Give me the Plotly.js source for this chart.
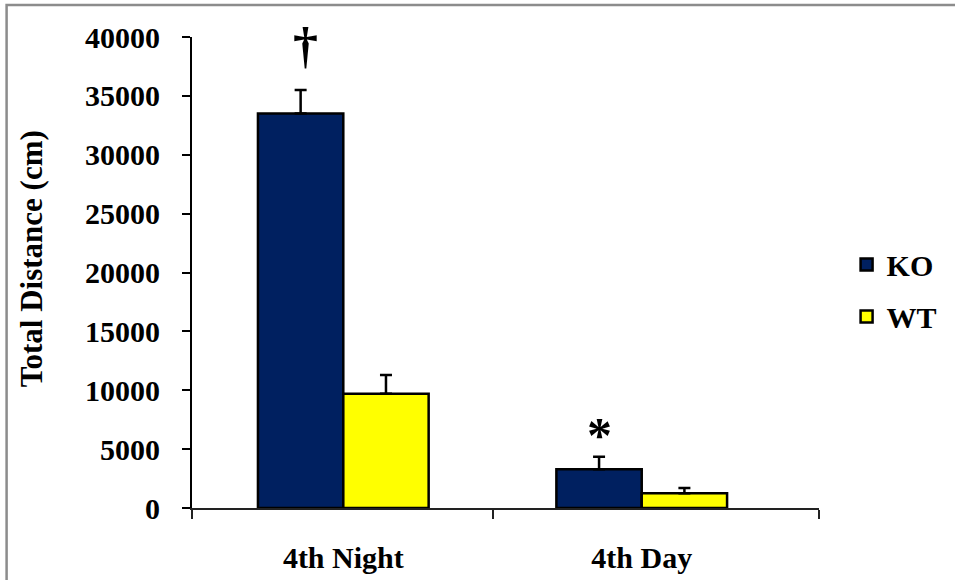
<!DOCTYPE html>
<html>
<head>
<meta charset="utf-8">
<script src="https://cdn.plot.ly/plotly-3.0.1.min.js"></script>
<style>
  html, body { margin: 0; padding: 0; background: #fff; }
  #chart { width: 955px; height: 580px; }
</style>
</head>
<body>
<div id="chart"></div>
<script>
// Locomotor activity: total distance travelled per phase
const categories = ['4th Night', '4th Day'];
const koValues = [33500, 3300];
const koErrors = [2000, 1050];
const wtValues = [9700, 1250];
const wtErrors = [1600, 450];
const yTickVals = [0, 5000, 10000, 15000, 20000, 25000, 30000, 35000, 40000];
const yTickText = yTickVals.map(v => String(v));

const FONT = 'Liberation Serif, Times New Roman, serif';
const BAR_GAP = 0.428;
const halfGroup = (1 - BAR_GAP) / 4;   // centre of each bar relative to its category
const xPos = categories.map((_, i) => i);

function barTrace(name, values, errors, color) {
  return {
    type: 'bar',
    name: name,
    legendgroup: name,
    x: xPos,
    y: values,
    marker: { color: color, line: { color: '#000', width: 2.5 } },
    error_y: {
      type: 'data', symmetric: false,
      array: errors, arrayminus: errors.map(() => 0),
      color: '#000', thickness: 2.5, width: 6
    },
    hoverinfo: 'y'
  };
}

const data = [
  barTrace('KO', koValues, koErrors, '#002060'),
  barTrace('WT', wtValues, wtErrors, '#FFFF00')
];

const layout = {
  width: 955, height: 580,
  margin: { l: 192, r: 134, t: 37, b: 72 },
  paper_bgcolor: '#fff', plot_bgcolor: '#fff',
  font: { family: FONT, color: '#000', size: 30, weight: 'bold' },
  barmode: 'group', bargap: BAR_GAP, bargroupgap: 0,
  showlegend: true,
  legend: {
    x: 1.044, xanchor: 'left', y: 0.572, yanchor: 'top',
    traceorder: 'grouped', tracegroupgap: 10,
    font: { family: FONT, size: 30, weight: 'bold', color: '#000' },
    bgcolor: 'rgba(0,0,0,0)'
  },
  xaxis: {
    type: 'linear', range: [-0.507, 1.594],
    tickmode: 'array', tickvals: xPos, ticktext: categories,
    ticks: '', ticklabelstandoff: 22,
    showline: true, linecolor: '#222', linewidth: 2,
    showgrid: false, zeroline: false, fixedrange: true,
    tickfont: { family: FONT, size: 30, weight: 'bold', color: '#000' },
    minor: {
      tickmode: 'array', tickvals: [-0.507, 0.5, 1.594],
      ticks: 'outside', ticklen: 9, tickwidth: 2, tickcolor: '#222', showgrid: false
    }
  },
  yaxis: {
    range: [0, 40000],
    tickmode: 'array', tickvals: yTickVals, ticktext: yTickText,
    ticks: 'outside', ticklen: 8, tickwidth: 2, tickcolor: '#000',
    ticklabelstandoff: 16,
    showline: true, linecolor: '#000', linewidth: 2,
    showgrid: false, zeroline: false, fixedrange: true,
    tickfont: { family: FONT, size: 30, weight: 'bold', color: '#000' }
  },
  annotations: [
    {
      text: 'Total Distance (cm)', textangle: -90,
      xref: 'paper', yref: 'paper', x: -0.256, y: 0.529,
      xanchor: 'center', yanchor: 'middle', showarrow: false,
      font: { family: FONT, size: 31, weight: 'bold', color: '#000' }
    },
    {
      text: '†', xref: 'x', yref: 'y', x: xPos[0] - halfGroup, y: 39300,
      xshift: 5, xanchor: 'center', yanchor: 'middle', showarrow: false,
      font: { family: FONT, size: 50, weight: 'bold', color: '#000' }
    },
    {
      text: '*', xref: 'x', yref: 'y', x: xPos[1] - halfGroup, y: 6200,
      xanchor: 'center', yanchor: 'middle', showarrow: false,
      font: { family: FONT, size: 50, weight: 'bold', color: '#000' }
    }
  ],
  shapes: [
    {
      type: 'rect', xref: 'paper', yref: 'paper',
      x0: -0.2957, x1: 1.23, y0: -0.17, y1: 1.0679,
      line: { color: '#8c8c8c', width: 2.5 }, fillcolor: 'rgba(0,0,0,0)', layer: 'below'
    }
  ]
};

Plotly.newPlot('chart', data, layout, { displayModeBar: false, staticPlot: true });
</script>
</body>
</html>
